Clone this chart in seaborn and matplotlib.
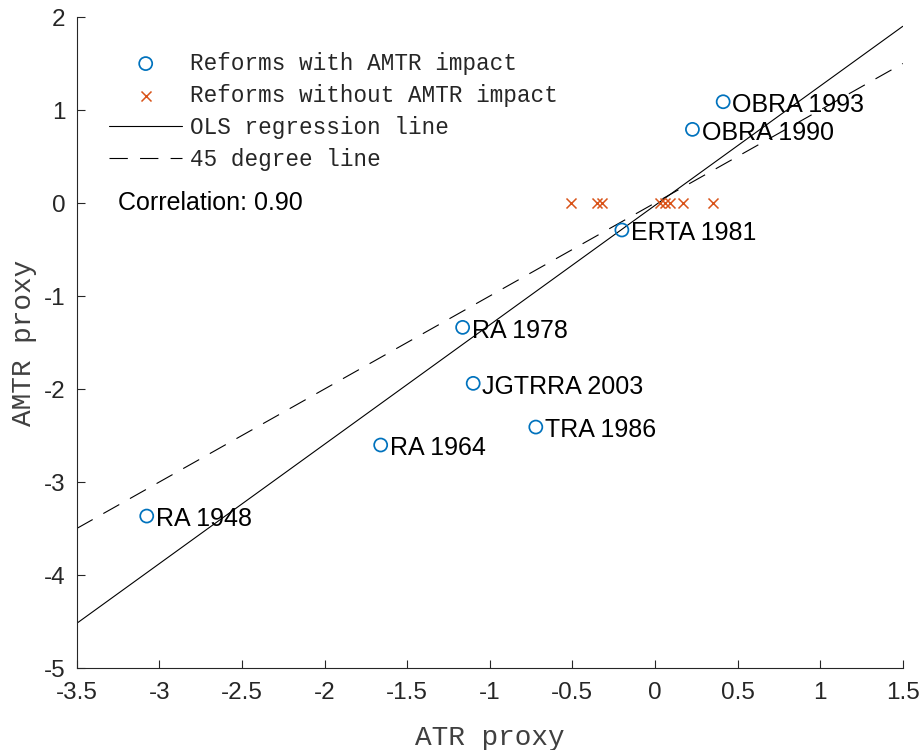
import numpy as np
import pandas as pd
import matplotlib
matplotlib.use("Agg")
import matplotlib.pyplot as plt
import seaborn as sns

# ---- data ----
reform_labels = ["RA 1948", "RA 1964", "RA 1978", "JGTRRA 2003",
                 "TRA 1986", "ERTA 1981", "OBRA 1990", "OBRA 1993"]
atr_with = [-3.076, -1.660, -1.164, -1.100, -0.721, -0.200, 0.227, 0.413]
amtr_with = [-3.366, -2.602, -1.337, -1.939, -2.409, -0.290, 0.792, 1.089]

atr_without = [-0.51, -0.35, -0.32, 0.03, 0.06, 0.09, 0.17, 0.35]
amtr_without = [0, 0, 0, 0, 0, 0, 0, 0]

ols_slope = 1.284
ols_intercept = -0.026
correlation = 0.90

x_limits = [-3.5, 1.5]
y_limits = [-5, 2]
x_ticks = [-3.5, -3, -2.5, -2, -1.5, -1, -0.5, 0, 0.5, 1, 1.5]
x_ticklabels = ["-3.5", "-3", "-2.5", "-2", "-1.5", "-1", "-0.5", "0", "0.5", "1", "1.5"]
y_ticks = [-5, -4, -3, -2, -1, 0, 1, 2]
y_ticklabels = ["-5", "-4", "-3", "-2", "-1", "0", "1", "2"]

# ---- styling ----
sns.set_theme(style="ticks")
plt.rcParams["font.family"] = ["Liberation Sans", "DejaVu Sans"]
BLUE = "#0072BD"
ORANGE = "#D95319"
AX_COLOR = "#262626"
MONO = ["Liberation Mono", "DejaVu Sans Mono"]

fig = plt.figure(figsize=(9.24, 7.5), dpi=100)
ax = fig.add_axes([0.083, 0.1093, 0.894, 0.8680])

df_with = pd.DataFrame({"atr": atr_with, "amtr": amtr_with, "label": reform_labels})
df_without = pd.DataFrame({"atr": atr_without, "amtr": amtr_without})

sns.scatterplot(data=df_with, x="atr", y="amtr", ax=ax, marker="o", s=88,
                facecolor="none", edgecolor=BLUE, linewidth=1.25,
                label="Reforms with AMTR impact", zorder=3, legend=False)
sns.scatterplot(data=df_without, x="atr", y="amtr", ax=ax, marker="x", s=52,
                color=ORANGE, linewidth=1.1,
                label="Reforms without AMTR impact", zorder=3, legend=False)

xs = np.array(x_limits)
df_ols = pd.DataFrame({"x": xs, "y": ols_slope * xs + ols_intercept})
df_45 = pd.DataFrame({"x": xs, "y": xs})
sns.lineplot(data=df_ols, x="x", y="y", ax=ax, color="black", linewidth=0.8,
             label="OLS regression line", legend=False)
sns.lineplot(data=df_45, x="x", y="y", ax=ax, color="black", linewidth=0.8,
             linestyle=(0, (16.5, 11)), label="45 degree line", legend=False)

for xv, yv, lab in zip(atr_with, amtr_with, reform_labels):
    ax.text(xv + 0.055, yv - 0.035, lab, fontsize=18, ha="left", va="center",
            color="black", zorder=4)

ax.text(-3.25, 0, f"Correlation: {correlation:.2f}", fontsize=18,
        ha="left", va="center", color="black")

ax.set_xlim(*x_limits)
ax.set_ylim(*y_limits)
ax.set_xticks(x_ticks)
ax.set_xticklabels(x_ticklabels)
ax.set_yticks(y_ticks)
ax.set_yticklabels(y_ticklabels)
ax.tick_params(axis="both", direction="in", length=6, width=0.8,
               colors=AX_COLOR, labelsize=17.5)
ax.tick_params(axis="x", pad=10)
ax.tick_params(axis="y", pad=8)
for side in ["top", "right"]:
    ax.spines[side].set_visible(False)
for side in ["left", "bottom"]:
    ax.spines[side].set_color(AX_COLOR)
    ax.spines[side].set_linewidth(0.8)

ax.set_xlabel("ATR proxy", fontsize=20, family=MONO, color="#404040", labelpad=15)
ax.set_ylabel("AMTR proxy", fontsize=20, family=MONO, color="#404040", labelpad=5)

handles, labels = ax.get_legend_handles_labels()
leg = ax.legend(handles, labels, loc="upper left", bbox_to_anchor=(0.039, 0.947),
                frameon=False, prop={"family": MONO, "size": 16.3},
                handlelength=3.25, handletextpad=0.32, labelspacing=0.4,
                borderpad=0, borderaxespad=0, numpoints=1, scatterpoints=1)

fig.savefig("out.png", dpi=100)
